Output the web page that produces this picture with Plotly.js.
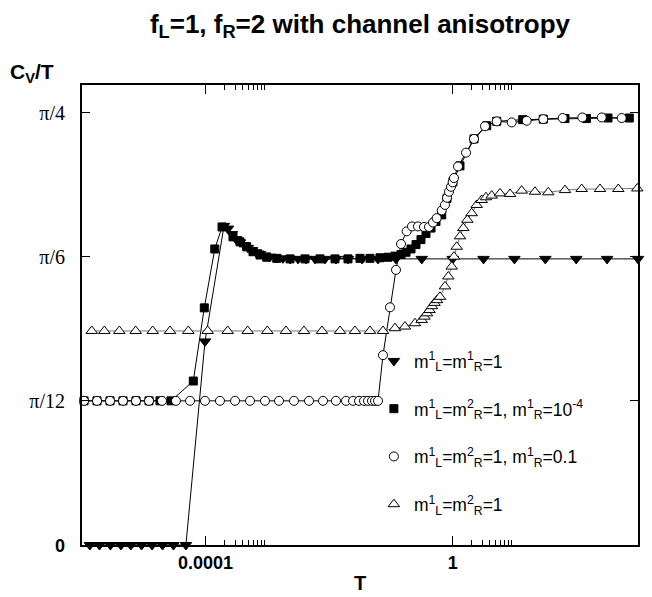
<!DOCTYPE html>
<html>
<head>
<meta charset="utf-8">
<script src="https://cdn.plot.ly/plotly-3.0.1.min.js"></script>
<style>html,body{margin:0;padding:0;background:#fff;}#chart{width:652px;height:597px;}</style>
</head>
<body>
<div id="chart"></div>
<script>
// ---- data ----
const T_down = [1.34e-6, 1.92e-6, 2.88e-6, 4.27e-6, 6.17e-6, 9.2e-6, 1.36e-5, 2.01e-5, 3.02e-5, 4.81e-5,
  9.8e-5, 1.99e-4, 2.31e-4, 2.68e-4, 3.11e-4, 3.61e-4, 4.19e-4, 4.86e-4, 5.65e-4, 6.55e-4, 7.61e-4,
  9.17e-4, 1.105e-3, 1.38e-3, 1.79e-3, 2.33e-3, 3.14e-3, 4.23e-3, 5.91e-3, 8.58e-3, 1.29e-2,
  2.02e-2, 3.41e-2, 6.19e-2, 0.121, 0.316, 1, 3.16, 10, 31.6, 100, 316, 1000];
const C_down = [0, 0, 0, 0, 0, 0, 0, 0, 0, 0,
  0.37, 0.58, 0.575, 0.565, 0.556, 0.55, 0.545, 0.54, 0.536, 0.532, 0.529,
  0.526, 0.524, 0.522, 0.521, 0.52, 0.52, 0.52, 0.52, 0.52, 0.52,
  0.52, 0.52, 0.52, 0.52, 0.52, 0.52, 0.52, 0.52, 0.52, 0.52, 0.52, 0.52];

const T_sq = [1.08e-6, 1.75e-6, 2.84e-6, 4.61e-6, 7.48e-6, 1.215e-5, 1.83e-5, 2.76e-5,
  6.33e-5, 9.54e-5, 1.41e-4, 1.85e-4,
  2.78e-4, 3.61e-4, 4.63e-4, 5.86e-4, 7.61e-4, 9.77e-4, 1.42e-3,
  2.33e-3, 4.07e-3, 7.12e-3, 1.245e-2, 2.02e-2, 3.16e-2, 4.59e-2, 6.66e-2, 8.98e-2,
  0.1165, 0.1458, 0.1757, 0.2116, 0.255, 0.307, 0.370, 0.446, 0.537, 0.665, 0.81, 1.01, 1.314, 2.215, 3.56, 5.16,
  13.6, 29.3, 65.8, 146.7, 327, 723];
const C_sq = [0.262, 0.262, 0.262, 0.262, 0.262, 0.262, 0.262, 0.262,
  0.298, 0.431, 0.538, 0.578,
  0.56, 0.551, 0.542, 0.533, 0.527, 0.523, 0.521,
  0.52, 0.52, 0.52, 0.52, 0.52, 0.521, 0.521, 0.522, 0.523,
  0.525, 0.528, 0.532, 0.538, 0.546, 0.555, 0.566, 0.576, 0.588, 0.60, 0.63, 0.66, 0.689, 0.738, 0.762, 0.77,
  0.773, 0.774, 0.775, 0.775, 0.776, 0.776];

const T_circ = [1.08e-6, 1.75e-6, 2.84e-6, 4.61e-6, 7.48e-6, 1.215e-5, 1.97e-5, 3.32e-5, 5.6e-5, 9.8e-5,
  1.71e-4, 3.0e-4, 5.24e-4, 9.17e-4, 1.545e-3, 2.70e-3, 4.73e-3, 7.96e-3, 1.29e-2, 1.877e-2,
  2.44e-2, 3.05e-2, 3.67e-2, 4.26e-2, 4.94e-2, 5.53e-2, 6.19e-2,
  7.45e-2, 9.67e-2, 0.121, 0.1458, 0.180, 0.2196, 0.2747, 0.3436, 0.414, 0.480,
  0.551, 0.665, 0.751, 0.81, 0.872, 0.940, 1.0, 1.05, 1.22, 1.644,
  2.215, 3.34, 5.16, 9.03, 15.8, 29.3, 60.4, 125.4, 258.6, 545];
const C_circ = [0.262, 0.262, 0.262, 0.262, 0.262, 0.262, 0.262, 0.262, 0.262, 0.262,
  0.262, 0.262, 0.262, 0.262, 0.262, 0.262, 0.262, 0.262, 0.262, 0.262,
  0.262, 0.262, 0.262, 0.262, 0.262, 0.262, 0.262,
  0.345, 0.432, 0.50, 0.547, 0.570, 0.579, 0.579, 0.578, 0.578, 0.586,
  0.594, 0.608, 0.618, 0.631, 0.642, 0.651, 0.659, 0.667, 0.688, 0.713,
  0.738, 0.761, 0.770, 0.768, 0.771, 0.774, 0.776, 0.777, 0.777, 0.776];

const T_up = [1.44e-6, 2.30e-6, 4.02e-6, 7.40e-6, 1.395e-5, 2.66e-5, 5.26e-5, 1.083e-4, 2.28e-4, 4.81e-4,
  1.0e-3, 2.0e-3, 3.92e-3, 7.67e-3, 1.50e-2, 2.62e-2, 4.59e-2, 7.45e-2,
  0.1165, 0.169, 0.2456, 0.315, 0.35, 0.384, 0.422, 0.463, 0.508, 0.558,
  0.624, 0.751, 0.850, 0.965, 1.05, 1.162, 1.314, 1.486, 1.726, 2.03,
  2.45, 2.95, 3.46, 4.28, 5.84, 8.48, 13.1, 21.5, 35.3, 65.8,
  122.6, 242.7, 480, 974];
const C_up = [0.389, 0.389, 0.389, 0.389, 0.389, 0.389, 0.389, 0.389, 0.389, 0.389,
  0.389, 0.389, 0.389, 0.389, 0.389, 0.389, 0.389, 0.389,
  0.394, 0.397, 0.403, 0.409, 0.415, 0.421, 0.427, 0.434, 0.44, 0.445,
  0.451, 0.470, 0.488, 0.506, 0.524, 0.542, 0.561, 0.576, 0.591, 0.603,
  0.618, 0.627, 0.632, 0.635, 0.639, 0.638, 0.644, 0.642, 0.641, 0.645,
  0.647, 0.647, 0.647, 0.648];

const seriesNames = [
  "m<sup>1</sup><sub>L</sub>=m<sup>1</sup><sub>R</sub>=1",
  "m<sup>1</sup><sub>L</sub>=m<sup>2</sup><sub>R</sub>=1, m<sup>1</sup><sub>R</sub>=10<sup>-4</sup>",
  "m<sup>1</sup><sub>L</sub>=m<sup>2</sup><sub>R</sub>=1, m<sup>1</sup><sub>R</sub>=0.1",
  "m<sup>1</sup><sub>L</sub>=m<sup>2</sup><sub>R</sub>=1"
];

const xTickVals = [1e-4, 1];
const xTickText = ["0.0001", "1"];
const xMinorVals = [2e-4, 3e-4, 4e-4, 5e-4, 6e-4, 7e-4, 8e-4, 9e-4, 2, 3, 4, 5, 6, 7, 8, 9];
const yTickVals = [0, Math.PI / 12, Math.PI / 6, Math.PI / 4];
const yTickText = ['<span style="font-family:\'Liberation Sans\',Arial;font-weight:bold;font-size:18px">0</span>', "π/12", "π/6", "π/4"];

// ---- traces ----
const xs = [T_down, T_sq, T_circ, T_up];
const ys = [C_down, C_sq, C_circ, C_up];
const lineColors = ["#000", "#000", "#000", "#777"];
const symbols = ["triangle-down", "square", "circle", "triangle-up"];
const fills = ["#000", "#000", "#fff", "#fff"];
const sizes = [10, 8, 9, 10];

const traces = [];
for (let i = 0; i < 4; i++) {
  traces.push({
    x: xs[i], y: ys[i], type: "scatter", mode: "lines",
    line: {color: lineColors[i], width: 1}, showlegend: false, hoverinfo: "skip", cliponaxis: false
  });
}
for (let i = 0; i < 4; i++) {
  traces.push({
    x: xs[i], y: ys[i], type: "scatter", mode: "markers", name: seriesNames[i],
    legendgroup: "g" + i,
    marker: {symbol: symbols[i], size: sizes[i], color: fills[i], line: {color: "#000", width: 1}},
    cliponaxis: false
  });
}

const layout = {
  width: 652, height: 597,
  margin: {l: 82, r: 14, t: 85, b: 52},
  paper_bgcolor: "#fff", plot_bgcolor: "#fff",
  showlegend: true,
  title: {
    text: "<b>f<sub>L</sub>=1, f<sub>R</sub>=2 with channel anisotropy</b>",
    font: {family: "Liberation Sans, Arial, sans-serif", size: 26, color: "#000"},
    x: 0.5, xref: "paper", xanchor: "center", y: 0.96, yanchor: "middle"
  },
  xaxis: {
    type: "log", range: [-6, 3],
    tickmode: "array", tickvals: xTickVals, ticktext: xTickText,
    ticks: "inside", ticklen: 9, tickwidth: 1, tickcolor: "#000",
    minor: {tickmode: "array", tickvals: xMinorVals, ticks: "inside", ticklen: 5, tickwidth: 1, tickcolor: "#000", showgrid: false},
    showline: true, linecolor: "#000", linewidth: 2, mirror: "allticks",
    showgrid: false, zeroline: false,
    tickfont: {family: "Liberation Sans, Arial, sans-serif", size: 18, color: "#000", weight: "bold"},
    title: {text: "<b>T</b>", font: {family: "Liberation Sans, Arial, sans-serif", size: 20, color: "#000"}, standoff: 4}
  },
  yaxis: {
    range: [0, 0.836],
    tickmode: "array", tickvals: yTickVals, ticktext: yTickText,
    ticks: "inside", ticklen: 8, tickwidth: 1, tickcolor: "#000",
    showline: true, linecolor: "#000", linewidth: 2, mirror: "allticks",
    showgrid: false, zeroline: false,
    ticklabelstandoff: 11,
    tickfont: {family: "Liberation Serif, Times New Roman, serif", size: 20, color: "#000"}
  },
  legend: {
    x: 0.525, xanchor: "left", y: 0.439, yanchor: "top",
    bgcolor: "rgba(0,0,0,0)", borderwidth: 0,
    traceorder: "grouped", tracegroupgap: 22,
    font: {family: "Liberation Sans, Arial, sans-serif", size: 17.5, color: "#000"}
  },
  annotations: [{
    text: "<b>C<sub>V</sub>/T</b>", xref: "paper", yref: "paper",
    x: -0.133, y: 1.026, xanchor: "left", yanchor: "middle", showarrow: false,
    font: {family: "Liberation Sans, Arial, sans-serif", size: 21, color: "#000"}
  }]
};

Plotly.newPlot("chart", traces, layout, {displayModeBar: false, staticPlot: true});
</script>
</body>
</html>
